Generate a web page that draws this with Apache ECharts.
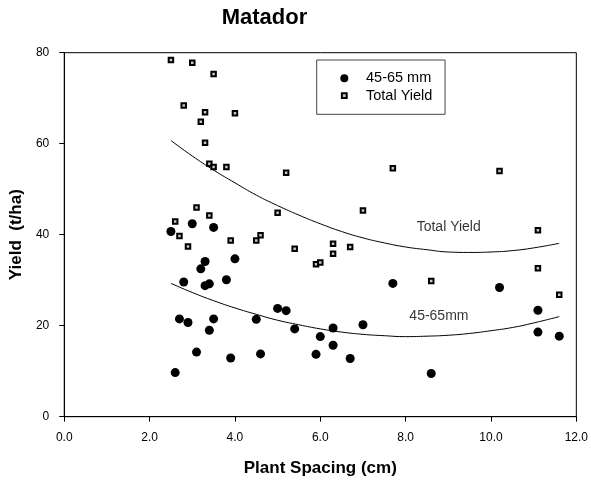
<!DOCTYPE html>
<html>
<head>
<meta charset="utf-8">
<script src="https://cdn.jsdelivr.net/npm/echarts@6/dist/echarts.min.js"></script>
<style>html,body{margin:0;padding:0;background:#fff;}#c{width:591px;height:483px;}</style>
</head>
<body>
<div id="c"></div>
<script>
// Plant spacing (cm) for each plot
const plantSpacing = [2.5, 2.6, 2.7, 2.8, 2.9, 3.0, 3.1, 3.2, 3.3, 3.3, 3.4, 3.4, 3.5, 3.5, 3.8, 3.9, 4.0,
  4.5, 4.6, 5.0, 5.2, 5.4, 5.9, 6.0, 6.3, 6.3, 6.7, 7.0, 7.7, 8.6, 10.2, 11.1, 11.1, 11.6];
// 45-65 mm yield (t/ha)
const yieldSmall = [40.7, 9.7, 21.5, 29.6, 20.7, 42.4, 14.2, 32.5, 34.1, 28.8, 29.2, 19.0, 41.6, 21.5, 30.1, 12.9, 34.7,
  21.4, 13.8, 23.8, 23.3, 19.3, 13.7, 17.6, 19.5, 15.7, 12.8, 20.2, 29.3, 9.5, 28.4, 23.4, 18.6, 17.7];
// Total yield (t/ha)
const yieldTotal = [78.4, 42.9, 39.7, 68.4, 37.4, 77.8, 46.0, 64.8, 66.9, 60.2, 55.6, 44.2, 75.3, 54.9, 54.9, 38.7, 66.7,
  38.7, 39.9, 44.8, 53.6, 36.9, 33.5, 33.9, 38.0, 35.8, 37.3, 45.3, 54.6, 29.8, 54.0, 41.0, 32.6, 26.8];
// Fitted curves
const curveX = [2.5, 3.0, 3.5, 4.0, 4.5, 5.0, 5.5, 6.0, 6.5, 7.0, 7.5, 8.0, 8.5, 9.0, 9.5, 10.0, 10.5, 11.0, 11.6];
const curveTotal = [60.7, 57.3, 54.2, 51.4, 48.7, 46.4, 44.3, 42.4, 40.7, 39.3, 38.2, 37.3, 36.7, 36.2, 36.1, 36.2, 36.5, 37.1, 38.1];
const curveSmall = [29.3, 27.3, 25.5, 23.9, 22.5, 21.2, 20.2, 19.3, 18.6, 18.1, 17.8, 17.6, 17.7, 17.9, 18.3, 18.9, 19.6, 20.6, 22.0];
// Curve annotations
const curveLabels = ["Total Yield", "45-65mm"];
const curveLabelX = [9.01, 8.78];
const curveLabelY = [41.6, 22.0];
const seriesNames = ["45-65 mm", "Total Yield"];
const xTicks = [0, 12, 2];
const yTicks = [0, 80, 20];

const FONT = '"Liberation Sans", Arial, sans-serif';
const chart = echarts.init(document.getElementById('c'), null, {renderer: 'canvas'});
const zip = (xs, ys) => xs.map((x, i) => [x, ys[i]]);

chart.setOption({
  animation: false,
  backgroundColor: '#fff',
  title: {
    text: 'Matador', left: 221.7, top: 7.4, padding: 0,
    textStyle: {fontFamily: FONT, fontSize: 22, fontWeight: 'bold', color: '#000'}
  },
  legend: {
    data: [
      {name: seriesNames[0], icon: 'circle'},
      {name: seriesNames[1], icon: 'path://M0 0M10 10M2 2H8V8H2Z'}
    ],
    orient: 'vertical',
    left: 316.7, top: 60,
    padding: [9.8, 12.7, 10.1, 22.6],
    itemGap: 0.4,
    itemWidth: 8, itemHeight: 8,
    borderColor: '#444', borderWidth: 1,
    textStyle: {fontFamily: FONT, fontSize: 14.5, color: '#000', lineHeight: 17, padding: [0, 0, 0, 12.7]}
  },
  grid: {left: 58.3, right: 14.3, top: 52.7, bottom: 66.3, show: true, borderColor: '#000', borderWidth: 1},
  xAxis: {
    type: 'value', min: xTicks[0], max: xTicks[1], interval: xTicks[2],
    name: 'Plant Spacing (cm)', nameLocation: 'middle', nameGap: 43.2,
    nameTextStyle: {fontFamily: FONT, fontSize: 17, fontWeight: 'bold', color: '#000'},
    axisLine: {show: true, lineStyle: {color: '#000', width: 1}},
    axisTick: {show: true, length: 5, inside: false, lineStyle: {color: '#000'}},
    axisLabel: {margin: 14.5, fontFamily: FONT, fontSize: 12, color: '#000', formatter: v => v.toFixed(1)},
    splitLine: {show: false}
  },
  yAxis: {
    type: 'value', min: yTicks[0], max: yTicks[1], interval: yTicks[2],
    name: 'Yield  (t/ha)', nameLocation: 'middle', nameGap: 30.7,
    nameTextStyle: {fontFamily: FONT, fontSize: 17, fontWeight: 'bold', color: '#000'},
    axisLine: {show: true, lineStyle: {color: '#000', width: 1}},
    axisTick: {show: true, length: 5, inside: false, lineStyle: {color: '#000'}},
    axisLabel: {margin: 15, fontFamily: FONT, fontSize: 12, color: '#000'},
    splitLine: {show: false}
  },
  series: [
    {
      name: seriesNames[0], type: 'scatter', symbol: 'circle', symbolSize: 9,
      itemStyle: {color: '#000', opacity: 1},
      data: zip(plantSpacing, yieldSmall), z: 3
    },
    {
      name: seriesNames[1], type: 'scatter', symbol: 'rect', symbolSize: 4.5,
      itemStyle: {color: '#c8c8c8', borderColor: '#000', borderWidth: 2, opacity: 1},
      data: zip(plantSpacing, yieldTotal), z: 4
    },
    {
      name: 'fitTotal', type: 'line', smooth: true, symbol: 'none',
      lineStyle: {color: '#000', width: 1}, data: zip(curveX, curveTotal), z: 2, silent: true
    },
    {
      name: 'fitSmall', type: 'line', smooth: true, symbol: 'none',
      lineStyle: {color: '#000', width: 1}, data: zip(curveX, curveSmall), z: 2, silent: true
    },
    {
      name: 'curveLabels', type: 'scatter', symbolSize: 1, silent: true,
      itemStyle: {color: 'rgba(0,0,0,0)'},
      label: {show: true, position: 'inside', formatter: p => p.name,
        fontFamily: FONT, fontSize: 14, color: '#000'},
      data: curveLabels.map((t, i) => ({name: t, value: [curveLabelX[i], curveLabelY[i]]})),
      z: 5
    }
  ]
});
</script>
</body>
</html>
